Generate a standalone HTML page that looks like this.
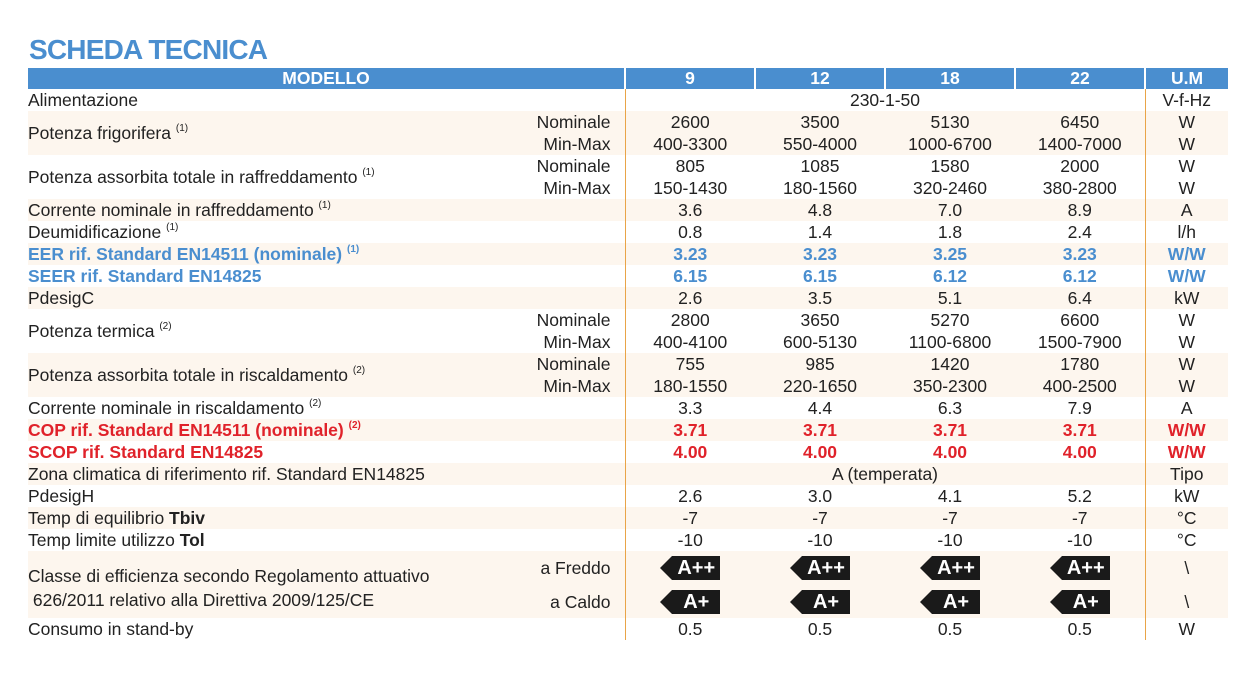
<!DOCTYPE html>
<html><head><meta charset="utf-8"><style>
body{margin:0;width:1256px;height:678px;background:#fff;font-family:"Liberation Sans",sans-serif;position:relative;overflow:hidden}
.t{position:absolute;left:29px;top:34px;font-size:28px;font-weight:bold;color:#4a8ecf;letter-spacing:-0.8px}
table{position:absolute;left:28px;top:68px;border-collapse:collapse;table-layout:fixed;width:1200px;font-size:17.5px;color:#222}
td{padding:0;height:22px;line-height:22px;white-space:nowrap}
th{background:#4a8ecf;color:#fff;font-size:17.5px;height:21px;padding:0;border-left:2px solid #fff}
th:first-child{border-left:none}
td.c{text-align:center}
td.v1{border-left:1.5px solid #e9a448}
td.u{border-left:1.5px solid #e9a448;text-align:center}
td.s{text-align:right;padding-right:14px}
tr.k td{background:#fdf6ee}
sup{font-size:10px;vertical-align:top;line-height:14px}
.b{color:#4a8ecf;font-weight:bold}
.r{color:#e0222a;font-weight:bold}
.lab{display:inline-block;position:relative;background:#1a1a1a;color:#fff;font-weight:bold;font-size:20px;height:24px;line-height:24px;width:48px;text-align:center;margin-left:12px;vertical-align:middle}
.lab:before{content:"";position:absolute;left:-12px;top:0;border-right:12px solid #1a1a1a;border-top:12px solid transparent;border-bottom:12px solid transparent}
</style></head><body>
<div class="t">SCHEDA TECNICA</div>
<table>
<colgroup><col style="width:400px"><col style="width:197px"><col style="width:130px"><col style="width:130px"><col style="width:130px"><col style="width:130px"><col style="width:83px"></colgroup>
<tr><th colspan="2">MODELLO</th><th>9</th><th>12</th><th>18</th><th>22</th><th>U.M</th></tr>
<tr><td>Alimentazione</td><td></td><td class="c v1" colspan="4">230-1-50</td><td class="u">V-f-Hz</td></tr>
<tr class="k"><td rowspan="2">Potenza frigorifera <sup>(1)</sup></td><td class="s">Nominale</td><td class="c v1">2600</td><td class="c">3500</td><td class="c">5130</td><td class="c">6450</td><td class="u">W</td></tr>
<tr class="k"><td class="s">Min-Max</td><td class="c v1">400-3300</td><td class="c">550-4000</td><td class="c">1000-6700</td><td class="c">1400-7000</td><td class="u">W</td></tr>
<tr><td rowspan="2">Potenza assorbita totale in raffreddamento <sup>(1)</sup></td><td class="s">Nominale</td><td class="c v1">805</td><td class="c">1085</td><td class="c">1580</td><td class="c">2000</td><td class="u">W</td></tr>
<tr><td class="s">Min-Max</td><td class="c v1">150-1430</td><td class="c">180-1560</td><td class="c">320-2460</td><td class="c">380-2800</td><td class="u">W</td></tr>
<tr class="k"><td>Corrente nominale in raffreddamento <sup>(1)</sup></td><td></td><td class="c v1">3.6</td><td class="c">4.8</td><td class="c">7.0</td><td class="c">8.9</td><td class="u">A</td></tr>
<tr><td>Deumidificazione <sup>(1)</sup></td><td></td><td class="c v1">0.8</td><td class="c">1.4</td><td class="c">1.8</td><td class="c">2.4</td><td class="u">l/h</td></tr>
<tr class="k b"><td>EER rif. Standard EN14511 (nominale) <sup>(1)</sup></td><td></td><td class="c v1">3.23</td><td class="c">3.23</td><td class="c">3.25</td><td class="c">3.23</td><td class="u">W/W</td></tr>
<tr class="b"><td>SEER rif. Standard EN14825</td><td></td><td class="c v1">6.15</td><td class="c">6.15</td><td class="c">6.12</td><td class="c">6.12</td><td class="u">W/W</td></tr>
<tr class="k"><td>PdesigC</td><td></td><td class="c v1">2.6</td><td class="c">3.5</td><td class="c">5.1</td><td class="c">6.4</td><td class="u">kW</td></tr>
<tr><td rowspan="2">Potenza termica <sup>(2)</sup></td><td class="s">Nominale</td><td class="c v1">2800</td><td class="c">3650</td><td class="c">5270</td><td class="c">6600</td><td class="u">W</td></tr>
<tr><td class="s">Min-Max</td><td class="c v1">400-4100</td><td class="c">600-5130</td><td class="c">1100-6800</td><td class="c">1500-7900</td><td class="u">W</td></tr>
<tr class="k"><td rowspan="2">Potenza assorbita totale in riscaldamento <sup>(2)</sup></td><td class="s">Nominale</td><td class="c v1">755</td><td class="c">985</td><td class="c">1420</td><td class="c">1780</td><td class="u">W</td></tr>
<tr class="k"><td class="s">Min-Max</td><td class="c v1">180-1550</td><td class="c">220-1650</td><td class="c">350-2300</td><td class="c">400-2500</td><td class="u">W</td></tr>
<tr><td>Corrente nominale in riscaldamento <sup>(2)</sup></td><td></td><td class="c v1">3.3</td><td class="c">4.4</td><td class="c">6.3</td><td class="c">7.9</td><td class="u">A</td></tr>
<tr class="k r"><td>COP rif. Standard EN14511 (nominale) <sup>(2)</sup></td><td></td><td class="c v1">3.71</td><td class="c">3.71</td><td class="c">3.71</td><td class="c">3.71</td><td class="u">W/W</td></tr>
<tr class="r"><td>SCOP rif. Standard EN14825</td><td></td><td class="c v1">4.00</td><td class="c">4.00</td><td class="c">4.00</td><td class="c">4.00</td><td class="u">W/W</td></tr>
<tr class="k"><td>Zona climatica di riferimento rif. Standard EN14825</td><td></td><td class="c v1" colspan="4">A (temperata)</td><td class="u">Tipo</td></tr>
<tr><td>PdesigH</td><td></td><td class="c v1">2.6</td><td class="c">3.0</td><td class="c">4.1</td><td class="c">5.2</td><td class="u">kW</td></tr>
<tr class="k"><td>Temp di equilibrio <b>Tbiv</b></td><td></td><td class="c v1">-7</td><td class="c">-7</td><td class="c">-7</td><td class="c">-7</td><td class="u">°C</td></tr>
<tr><td>Temp limite utilizzo <b>Tol</b></td><td></td><td class="c v1">-10</td><td class="c">-10</td><td class="c">-10</td><td class="c">-10</td><td class="u">°C</td></tr>
<tr class="k"><td rowspan="2" style="line-height:24px;padding-top:6px">Classe di efficienza secondo Regolamento attuativo<br>&nbsp;626/2011 relativo alla Direttiva 2009/125/CE</td><td class="s" style="height:34px">a Freddo</td><td class="c v1"><span class="lab">A++</span></td><td class="c"><span class="lab">A++</span></td><td class="c"><span class="lab">A++</span></td><td class="c"><span class="lab">A++</span></td><td class="u">\</td></tr>
<tr class="k"><td class="s" style="height:33px">a Caldo</td><td class="c v1"><span class="lab">A+</span></td><td class="c"><span class="lab">A+</span></td><td class="c"><span class="lab">A+</span></td><td class="c"><span class="lab">A+</span></td><td class="u">\</td></tr>
<tr><td>Consumo in stand-by</td><td></td><td class="c v1">0.5</td><td class="c">0.5</td><td class="c">0.5</td><td class="c">0.5</td><td class="u">W</td></tr>
</table>
</body></html>
